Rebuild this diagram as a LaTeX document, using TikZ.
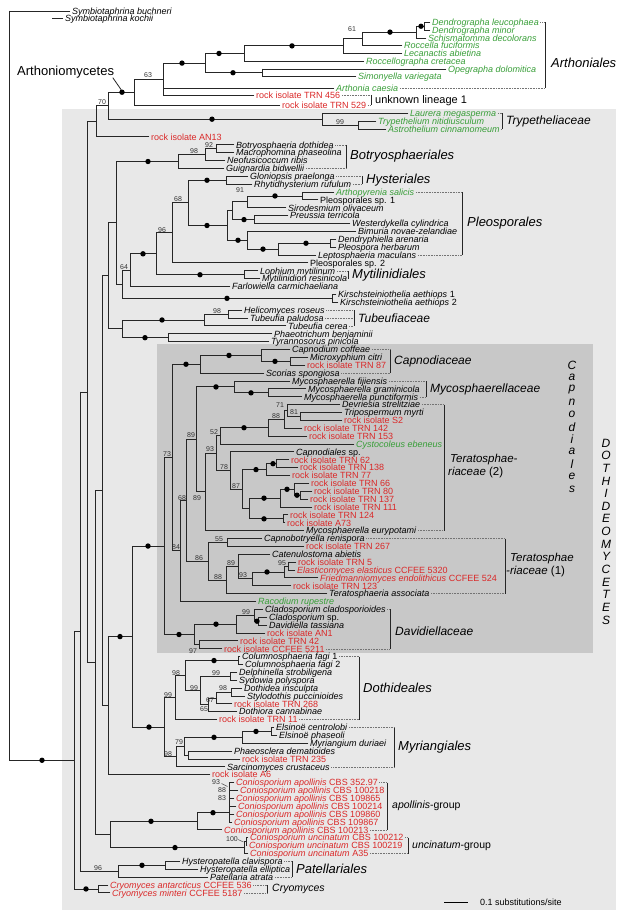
\documentclass[tikz,border=0pt]{standalone}
\usepackage{fontspec}
\setmainfont{Liberation Sans}
\usetikzlibrary{calc}
\definecolor{lich}{RGB}{56,158,56}
\definecolor{rock}{RGB}{218,40,40}
\definecolor{boxlight}{RGB}{232,232,232}
\definecolor{boxdark}{RGB}{200,200,200}
\newcommand\uu[1]{\textup{#1}}
\newcommand\trLF[6]{\draw[br] (#1,#3) -- (#2,#3); \node[lf,#4] (#5) at (#2,#3) {#6};}
\newcommand\trIN[4]{\draw[br] (#2,#3) -- (#2,#4); \draw[br] (#1,{(#3+#4)/2}) -- (#2,{(#3+#4)/2});}
\newcommand\trINd[5]{\trIN{#1}{#2}{#3}{#4}\fill[black] (#5,{(#3+#4)/2}) circle (2.7pt);}
\newcommand\trLD[3]{\draw[ldr] let \p1=(#1.east) in (\x1+1.5pt,-#2pt) -- (#3pt,-#2pt);}
\newcommand\trBR[3]{\draw[brk] (#1,#2) -- (#1,#3);}
\newcommand\trBS[3]{\node[bs] at (#1,#2) {#3};}
\begin{document}
\begin{tikzpicture}[x=1pt,y=-1pt,
 br/.style={line width=0.9pt, draw=black!85, line cap=rect},
 brk/.style={line width=1pt, draw=black!85},
 ldr/.style={line width=0.6pt, draw=black!55, dash pattern=on 0.7pt off 0.9pt},
 lf/.style={anchor=base west, inner sep=0pt, xshift=2pt, yshift=-3.2pt, font=\fontsize{9}{9}\selectfont\itshape, text=black},
 grn/.style={text=lich}, rd/.style={text=rock}, blk/.style={},
 bs/.style={inner sep=0pt, font=\fontsize{7}{7}\selectfont, text=black!80},
 ordl/.style={anchor=west, inner sep=0pt, font=\fontsize{13}{13}\selectfont\itshape},
 faml/.style={anchor=west, inner sep=0pt, font=\fontsize{12}{12}\selectfont\itshape},
 grpl/.style={anchor=west, inner sep=0pt, font=\fontsize{11}{11}\selectfont},
 vlet/.style={inner sep=0pt, font=\fontsize{12}{12}\selectfont\itshape}]
\useasboundingbox (0,0) rectangle (624,915);
\fill[boxlight] (62,109) rectangle (616,910);
\fill[boxdark] (157,344) rectangle (593,653);
% ---------- root
\draw[br] (9,11) -- (9,760.26);
\trLF{9}{70}{11}{blk}{l1}{Symbiotaphrina buchneri}
\trLF{52}{63}{18.5}{blk}{l2}{Symbiotaphrina kochii}
\trINd{9}{74}{631.575}{888.95}{42}
\trIN{74}{80}{391.95}{871.2}
\trIN{80}{87}{121.3}{662.6}
\trIN{87}{96}{105.7}{136.9}
\trIN{96}{108}{92.2}{119.2}
\trINd{108}{134}{79.05}{105.4}{122}
% ---------- Arthoniomycetes
\trIN{134}{163}{63.1}{95}
\trINd{163}{205}{53.45}{72.75}{182}
\trINd{205}{244}{45.9}{61}{219}
\trINd{205}{262}{69}{76.5}{233}
\trINd{244}{343}{38.8}{53}{292}
\trIN{343}{362}{32.1}{45.5}
\trINd{362}{416}{26.25}{38}{390}
\trINd{416}{424}{22.5}{30}{421}
\trLF{424}{430}{22.5}{grn}{l3}{Dendrographa leucophaea}
\trLF{424}{430}{30}{grn}{l4}{Dendrographa minor}
\trLF{416}{426}{38}{grn}{l5}{Schismatomma decolorans}
\trLF{362}{402}{45.5}{grn}{l6}{Roccella fuciformis}
\trLF{343}{402}{53}{grn}{l7}{Lecanactis abietina}
\trLF{244}{364}{61}{grn}{l8}{Roccellographa cretacea}
\trLF{262}{446}{69}{grn}{l9}{Opegrapha dolomitica}
\trLF{262}{356}{76.5}{grn}{l10}{Simonyella variegata}
\trLF{163}{334}{88}{grn}{l11}{Arthonia caesia}
\trLF{163}{254}{95}{rd}{l12}{\uu{rock isolate TRN 456}}
\trLF{134}{280}{105.4}{rd}{l13}{\uu{rock isolate TRN 529}}
\node[anchor=west,inner sep=0pt,font=\fontsize{13}{13}\selectfont] (arthlab) at (17,72) {Arthoniomycetes};
\draw[br,line width=0.8pt] (113,78) -- (121,89.5);
% ---------- Trypetheliaceae, AN13
\trINd{108}{322}{113.3}{125.1}{212}
\trIN{322}{358}{121.2}{129}
\trLF{322}{408}{113.3}{grn}{l14}{Laurera megasperma}
\trLF{358}{376}{121.2}{grn}{l15}{Trypethelium nitidiusculum}
\trLF{358}{386}{129}{grn}{l16}{Astrothelium cinnamomeum}
\trLF{96}{149}{136.9}{rd}{l17}{\uu{rock isolate AN13}}
% ---------- backbone
\trIN{87}{95}{490.75}{834.45}
\trIN{95}{102}{275.9}{705.6}
\trIN{102}{108}{222.9}{328.85}
\trIN{108}{116}{161.5}{284.25}
% Botryosphaeriales
\trINd{116}{178}{154.6}{168.4}{148}
\trIN{178}{205}{148.75}{160.5}
\trIN{205}{216}{144.8}{152.7}
\trLF{216}{234}{144.8}{blk}{l18}{Botryosphaeria dothidea}
\trLF{216}{234}{152.7}{blk}{l19}{Macrophomina phaseolina}
\trLF{205}{225}{160.5}{blk}{l20}{Neofusicoccum ribis}
\trLF{178}{224}{168.4}{blk}{l21}{Guignardia bidwellii}
% Pleosporales etc.
\trIN{116}{122}{270.15}{298.35}
\trIN{122}{130}{253.8}{286.5}
\trINd{122}{332}{294.4}{302.3}{227}
\trINd{130}{156}{232.9}{274.75}{143}
\trINd{156}{244}{270.8}{278.7}{200}
\trIN{156}{172}{202.9}{262.9}
\trIN{172}{188}{180.25}{225.5}
\trINd{188}{226}{176.3}{184.2}{207}
\trINd{188}{227}{210.75}{240.25}{207}
\trIN{227}{232}{201.9}{219.6}
\trIN{232}{247}{196}{207.8}
\trINd{247}{302}{192}{199.9}{275}
\trINd{232}{254}{215.7}{223.5}{244}
\trINd{227}{247}{231.4}{249.1}{238}
\trINd{247}{278}{243.25}{255}{263}
\trINd{278}{330}{239.3}{247.2}{306}
\trLF{226}{248}{176.3}{blk}{l22}{Gloniopsis praelonga}
\trLF{226}{252}{184.2}{blk}{l23}{Rhytidhysterium rufulum}
\trLF{302}{334}{192}{grn}{l24}{Arthopyrenia salicis}
\trLF{302}{318}{199.9}{blk}{l25}{\uu{Pleosporales sp. 1}}
\trLF{247}{286}{207.8}{blk}{l26}{Sirodesmium olivaceum}
\trLF{254}{288}{215.7}{blk}{l27}{Preussia terricola}
\trLF{254}{350}{223.5}{blk}{l28}{Westerdykella cylindrica}
\trLF{247}{356}{231.4}{blk}{l29}{Bimuria novae-zelandiae}
\trLF{330}{336}{239.3}{blk}{l30}{Dendryphiella arenaria}
\trLF{330}{336}{247.2}{blk}{l31}{Pleospora herbarum}
\trLF{278}{316}{255}{blk}{l32}{Leptosphaeria maculans}
\trLF{172}{308}{262.9}{blk}{l33}{\uu{Pleosporales sp. 2}}
\trLF{244}{258}{270.8}{blk}{l34}{Lophium mytilinum}
\trLF{244}{260}{278.7}{blk}{l35}{Mytilinidion resinicola}
\trLF{130}{230}{286.5}{blk}{l36}{Farlowiella carmichaeliana}
\trLF{332}{336}{294.4}{blk}{l37}{Kirschsteiniothelia aethiops \uu{1}}
\trLF{332}{338}{302.3}{blk}{l38}{Kirschsteiniothelia aethiops \uu{2}}
% Tubeufiaceae
\trIN{108}{122}{320}{337.7}
\trINd{122}{204}{314.05}{325.9}{162}
\trIN{204}{228}{310.1}{318}
\trINd{122}{168}{333.8}{341.6}{145}
\trLF{228}{242}{310.1}{blk}{l39}{Helicomyces roseus}
\trLF{228}{248}{318}{blk}{l40}{Tubeufia paludosa}
\trLF{204}{286}{325.9}{blk}{l41}{Tubeufia cerea}
\trLF{168}{272}{333.8}{blk}{l42}{Phaeotrichum benjaminii}
\trLF{168}{269}{341.6}{blk}{l43}{Tyrannosorus pinicola}
% ---------- Capnodiales
\trIN{102}{108}{636.55}{774.7}
\trINd{108}{132}{546.05}{727.075}{120}
\trINd{132}{164}{457.6}{634.5}{148}
\trIN{164}{172}{364.25}{550.9}
\trINd{172}{200}{355.4}{373.1}{186}
\trINd{200}{261}{349.5}{361.35}{229}
\trINd{261}{290}{357.4}{365.3}{275}
\trLF{261}{290}{349.5}{blk}{l44}{Capnodium coffeae}
\trLF{290}{308}{357.4}{blk}{l45}{Microxyphium citri}
\trLF{290}{305}{365.3}{rd}{l46}{\uu{rock isolate TRN 87}}
\trLF{200}{264}{373.1}{blk}{l47}{Scorias spongiosa}
\trIN{172}{180}{500.35}{601.5}
\trIN{180}{186}{439.4}{561.3}
\trIN{186}{196}{386.9}{491.9}
\trINd{196}{234}{381}{392.85}{216}
\trINd{234}{268}{388.9}{396.8}{251}
\trLF{234}{290}{381}{blk}{l48}{Mycosphaerella fijiensis}
\trLF{268}{306}{388.9}{blk}{l49}{Mycosphaerella graminicola}
\trLF{268}{302}{396.8}{blk}{l50}{Mycosphaerella punctiformis}
\trIN{196}{205}{453.2}{530.6}
\trIN{205}{216}{435.9}{470.5}
\trIN{216}{220}{427.75}{444}
\trINd{220}{268}{419.4}{436.1}{244}
\trIN{268}{284}{410.5}{428.3}
\trIN{284}{287}{404.6}{416.45}
\trIN{287}{300}{412.5}{420.4}
\trLF{287}{340}{404.6}{blk}{l51}{Devriesia strelitziae}
\trLF{300}{342}{412.5}{blk}{l52}{Tripospermum myrti}
\trLF{300}{342}{420.4}{rd}{l53}{\uu{rock isolate S2}}
\trLF{284}{302}{428.3}{rd}{l54}{\uu{rock isolate TRN 142}}
\trLF{268}{307}{436.1}{rd}{l55}{\uu{rock isolate TRN 153}}
\trLF{220}{354}{444}{grn}{l56}{Cystocoleus ebeneus}
\trIN{216}{230}{451.9}{489.05}
\trIN{230}{242}{469.6}{508.5}
\trINd{242}{266}{463.7}{475.5}{256}
\trINd{266}{276}{459.8}{467.6}{273}
\trIN{242}{249}{498.15}{518.85}
\trINd{249}{280}{489.3}{507}{264}
\trINd{280}{294}{483.4}{495.2}{287}
\trINd{294}{300}{491.3}{499.1}{297}
\trINd{249}{283}{514.9}{522.8}{264}
\trLF{230}{294}{451.9}{blk}{l57}{Capnodiales \uu{sp.}}
\trLF{276}{289}{459.8}{rd}{l58}{\uu{rock isolate TRN 62}}
\trLF{276}{298}{467.6}{rd}{l59}{\uu{rock isolate TRN 138}}
\trLF{266}{290}{475.5}{rd}{l60}{\uu{rock isolate TRN 77}}
\trLF{294}{309}{483.4}{rd}{l61}{\uu{rock isolate TRN 66}}
\trLF{300}{312}{491.3}{rd}{l62}{\uu{rock isolate TRN 80}}
\trLF{300}{308}{499.1}{rd}{l63}{\uu{rock isolate TRN 137}}
\trLF{280}{312}{507}{rd}{l64}{\uu{rock isolate TRN 111}}
\trLF{283}{288}{514.9}{rd}{l65}{\uu{rock isolate TRN 124}}
\trLF{283}{285}{522.8}{rd}{l66}{\uu{rock isolate A73}}
\trLF{205}{304}{530.6}{blk}{l67}{Mycosphaerella eurypotami}
\trIN{186}{208}{542.45}{580.1}
\trIN{208}{227}{538.5}{546.4}
\trIN{208}{226}{566.6}{593.6}
\trIN{226}{238}{554.3}{578.9}
\trIN{238}{252}{572}{585.8}
\trINd{252}{284}{566.05}{577.9}{267}
\trIN{284}{288}{562.1}{570}
\trLF{227}{262}{538.5}{blk}{l68}{Capnobotryella renispora}
\trLF{227}{304}{546.4}{rd}{l69}{\uu{rock isolate TRN 267}}
\trLF{238}{270}{554.3}{blk}{l70}{Catenulostoma abietis}
\trLF{288}{296}{562.1}{rd}{l71}{\uu{rock isolate TRN 5}}
\trLF{288}{295}{570}{rd}{l72}{Elasticomyces elasticus \uu{CCFEE 5320}}
\trLF{284}{318}{577.9}{rd}{l73}{Friedmanniomyces endolithicus \uu{CCFEE 524}}
\trLF{252}{291}{585.8}{rd}{l74}{\uu{rock isolate TRN 123}}
\trLF{226}{327}{593.6}{blk}{l75}{Teratosphaeria associata}
\trLF{180}{256}{601.5}{grn}{l76}{Racodium rupestre}
\trINd{164}{194}{624.15}{644.85}{179}
\trINd{194}{236}{615.3}{633}{216}
\trIN{236}{254}{609.4}{621.2}
\trINd{254}{258}{617.3}{625.1}{257}
\trIN{194}{199}{640.9}{648.8}
\trLF{254}{263}{609.4}{blk}{l77}{Cladosporium cladosporioides}
\trLF{258}{267}{617.3}{blk}{l78}{Cladosporium \uu{sp.}}
\trLF{258}{267}{625.1}{blk}{l79}{Davidiella tassiana}
\trLF{236}{265}{633}{rd}{l80}{\uu{rock isolate AN1}}
\trLF{199}{238}{640.9}{rd}{l81}{\uu{rock isolate TRN 42}}
\trLF{199}{222}{648.8}{rd}{l82}{\uu{rock isolate CCFEE 5211}}
% ---------- Dothideales, Myriangiales
\trINd{132}{164}{697.6}{756.55}{149}
\trIN{164}{175}{675.6}{719.6}
\trIN{175}{185}{660.55}{690.6}
\trINd{185}{238}{656.6}{664.5}{214}
\trIN{185}{200}{676.35}{704.85}
\trIN{200}{230}{672.4}{680.3}
\trIN{200}{208}{698}{711.7}
\trIN{208}{216}{692.05}{703.9}
\trIN{216}{231}{688.1}{696}
\trLF{238}{240}{656.6}{blk}{l83}{Columnosphaeria fagi \uu{1}}
\trLF{238}{243}{664.5}{blk}{l84}{Columnosphaeria fagi \uu{2}}
\trLF{230}{237}{672.4}{blk}{l85}{Delphinella strobiligena}
\trLF{230}{237}{680.3}{blk}{l86}{Sydowia polyspora}
\trLF{231}{242}{688.1}{blk}{l87}{Dothidea insculpta}
\trLF{231}{245}{696}{blk}{l88}{Stylodothis puccinioides}
\trLF{216}{232}{703.9}{rd}{l89}{\uu{rock isolate TRN 268}}
\trLF{208}{237}{711.7}{blk}{l90}{Dothiora cannabinae}
\trLF{175}{217}{719.6}{rd}{l91}{\uu{rock isolate TRN 11}}
\trIN{164}{176}{746.2}{766.9}
\trIN{176}{184}{737.3}{755.05}
\trINd{184}{242}{731.45}{743.2}{214}
\trINd{242}{271}{727.5}{735.4}{256}
\trIN{184}{188}{751.1}{759}
\trLF{271}{274}{727.5}{blk}{l92}{Elsinoë centrolobi}
\trLF{271}{277}{735.4}{blk}{l93}{Elsinoë phaseoli}
\trLF{242}{308}{743.2}{blk}{l94}{Myriangium duriaei}
\trLF{188}{232}{751.1}{blk}{l95}{Phaeosclera dematioides}
\trLF{188}{240}{759}{rd}{l96}{\uu{rock isolate TRN 235}}
\trLF{176}{225}{766.9}{blk}{l97}{Sarcinomyces crustaceus}
\trLF{108}{210}{774.7}{rd}{l98}{\uu{rock isolate A6}}
% ---------- Coniosporium
\trIN{95}{110}{821.3}{847.6}
\trINd{110}{197}{812.7}{829.9}{151}
\draw[br] (229,782.6) -- (229,822);
\draw[br] (197,812.7) -- (229,812.7);
\fill[black] (213,812.7) circle (2.7pt);
\trLF{229}{234}{782.6}{rd}{l99}{Coniosporium apollinis \uu{CBS 352.97}}
\trLF{229}{238}{790.5}{rd}{l100}{Coniosporium apollinis \uu{CBS 100218}}
\trLF{229}{234}{798.4}{rd}{l101}{Coniosporium apollinis \uu{CBS 109865}}
\trLF{229}{236}{806.2}{rd}{l102}{Coniosporium apollinis \uu{CBS 100214}}
\trLF{229}{234}{814.1}{rd}{l103}{Coniosporium apollinis \uu{CBS 109860}}
\trLF{229}{232}{822}{rd}{l104}{Coniosporium apollinis \uu{CBS 109867}}
\trLF{197}{222}{829.9}{rd}{l105}{Coniosporium apollinis \uu{CBS 100213}}
\trIN{244}{246}{837.7}{845.6}
\trINd{110}{244}{841.65}{853.5}{175}
\trLF{246}{248}{837.7}{rd}{l106}{Coniosporium uncinatum \uu{CBS 100212}}
\trLF{246}{247}{845.6}{rd}{l107}{Coniosporium uncinatum \uu{CBS 100219}}
\trLF{244}{248}{853.5}{rd}{l108}{Coniosporium uncinatum \uu{A35}}
\draw[black!70,line width=0.5pt] (221.5,783.5) -- (227.5,786.5);
\draw[black!70,line width=0.5pt] (238,839.5) -- (243.5,842);
% ---------- Patellariales, Cryomyces
\trIN{80}{118}{865.3}{877.1}
\trINd{118}{165}{861.4}{869.2}{142}
\trLF{165}{180}{861.4}{blk}{l109}{Hysteropatella clavispora}
\trLF{165}{198}{869.2}{blk}{l110}{Hysteropatella elliptica}
\trLF{118}{208}{877.1}{blk}{l111}{Patellaria atrata}
\trINd{74}{98}{885}{892.9}{86}
\trLF{98}{108}{885}{rd}{l112}{Cryomyces antarcticus \uu{CCFEE 536}}
\trLF{98}{110}{892.9}{rd}{l113}{Cryomyces minteri \uu{CCFEE 5187}}
% ---------- leaders and brackets
\trLD{l3}{22.5}{545}\trLD{l11}{88}{545}\trBR{545}{22.5}{88}
\node[ordl] at (551,63) {Arthoniales};
\trLD{l12}{95}{371}\trLD{l13}{105.4}{371}\trBR{371}{95}{105.4}
\node[grpl] at (375,100.2) {unknown lineage 1};
\trLD{l14}{113.3}{502}\trLD{l16}{129}{502}\trBR{502}{113.3}{129}
\node[faml] at (506,121.2) {Trypetheliaceae};
\trLD{l18}{144.8}{346}\trLD{l21}{168.4}{346}\trBR{346}{144.8}{168.4}
\node[ordl] at (350,156.6) {Botryosphaeriales};
\trLD{l22}{176.3}{362}\trLD{l23}{184.2}{362}\trBR{362}{176.3}{184.2}
\node[ordl] at (366,180.3) {Hysteriales};
\trLD{l24}{192}{462}\trLD{l32}{255}{462}\trBR{462}{192}{255}
\node[ordl] at (467,223.5) {Pleosporales};
\trLD{l34}{270.8}{348}\trLD{l35}{278.7}{348}\trBR{348}{270.8}{278.7}
\node[ordl] at (352,274.8) {Mytilinidiales};
\trLD{l39}{310.1}{354}\trLD{l40}{318}{354}\trLD{l41}{325.9}{354}\trBR{354}{310.1}{325.9}
\node[faml] at (358,318) {Tubeufiaceae};
\trLD{l44}{349.5}{390}\trLD{l47}{373.1}{390}\trBR{390}{349.5}{373.1}
\node[faml] at (394,361.3) {Capnodiaceae};
\trLD{l48}{381}{426}\trLD{l50}{396.8}{426}\trBR{426}{381}{396.8}
\node[faml] at (430,388.9) {Mycosphaerellaceae};
\trLD{l51}{404.6}{444}\trLD{l67}{530.6}{444}\trBR{444}{404.6}{530.6}
\node[faml,font=\fontsize{11.5}{11.5}\selectfont\itshape] at (450,460) {Teratosphae-};
\node[faml,font=\fontsize{11.5}{11.5}\selectfont\itshape] at (448,473) {riaceae \uu{(2)}};
\trLD{l68}{538.5}{505}\trLD{l75}{593.6}{505}\trBR{505}{538.5}{593.6}
\node[faml,font=\fontsize{11.5}{11.5}\selectfont\itshape] at (510,559) {Teratosphae};
\node[faml,font=\fontsize{11.5}{11.5}\selectfont\itshape] at (506,572) {-riaceae \uu{(1)}};
\trLD{l77}{609.4}{390}\trLD{l82}{648.8}{390}\trBR{390}{609.4}{648.8}
\node[faml] at (395,631) {Davidiellaceae};
\trLD{l83}{656.6}{359}\trLD{l91}{719.6}{359}\trBR{359}{656.6}{719.6}
\node[ordl] at (363,688) {Dothideales};
\trLD{l92}{727.5}{394}\trLD{l97}{766.9}{394}\trBR{394}{727.5}{766.9}
\node[ordl] at (398,747) {Myriangiales};
\trLD{l99}{782.6}{387}\trLD{l105}{829.9}{387}\trBR{387}{782.6}{829.9}
\node[grpl,font=\fontsize{10.5}{10.5}\selectfont] at (392,806) {\textit{apollinis}-group};
\trLD{l106}{837.7}{408}\trLD{l108}{853.5}{408}\trBR{408}{837.7}{853.5}
\node[grpl,font=\fontsize{10.5}{10.5}\selectfont] at (412,845.6) {\textit{uncinatum}-group};
\trLD{l109}{861.4}{292}\trLD{l111}{877.1}{292}\trBR{292}{861.4}{877.1}
\node[ordl] at (296,869) {Patellariales};
\trLD{l112}{885}{267}\trLD{l113}{892.9}{267}\trBR{267}{885}{892.9}
\node[grpl,font=\fontsize{10.5}{10.5}\selectfont\itshape] at (272,889) {Cryomyces};
% ---------- vertical letters
\foreach \c [count=\i from 0] in {C,a,p,n,o,d,i,a,l,e,s}
  \node[vlet] at (572,{365+12.4*\i}) {\c};
\foreach \c [count=\i from 0] in {D,O,T,H,I,D,E,O,M,Y,C,E,T,E,S}
  \node[vlet] at (606,{443+12.64*\i}) {\c};
% ---------- bootstrap values
\trBS{352}{29}{61}\trBS{148}{75}{63}\trBS{102}{102}{70}\trBS{340}{122}{99}
\trBS{209}{145}{92}\trBS{194}{151}{98}\trBS{178}{199}{68}\trBS{240}{190}{91}
\trBS{162}{230}{96}\trBS{124}{267}{64}\trBS{217}{311}{98}
\trBS{280}{405}{71}\trBS{294}{412}{81}\trBS{276}{416}{88}\trBS{214}{432}{52}
\trBS{191}{435}{89}\trBS{210}{449}{93}\trBS{167}{454}{73}\trBS{224}{467}{78}
\trBS{236}{486}{87}\trBS{182}{498}{68}\trBS{197}{498}{89}\trBS{219}{539}{55}
\trBS{176}{547}{84}\trBS{199}{558}{86}\trBS{231}{563}{89}\trBS{282}{563}{95}
\trBS{218}{577}{88}\trBS{243}{575}{93}\trBS{246}{612}{99}\trBS{193}{651}{97}
\trBS{176}{673}{98}\trBS{216}{673}{99}\trBS{194}{688}{99}\trBS{223}{688}{98}
\trBS{168}{695}{99}\trBS{210}{700}{67}\trBS{204}{709}{65}\trBS{179}{742}{79}
\trBS{168}{754}{98}\trBS{216}{782.5}{93}\trBS{222}{790}{88}\trBS{222}{798}{83}
\trBS{232}{839.5}{100}\trBS{98}{868}{96}
% ---------- scale bar
\draw[line width=1pt] (444,902.7) -- (468,902.7);
\node[lf,font=\fontsize{9}{9}\selectfont,xshift=0pt] (scl) at (478,902.7) {0.1 substitutions/site};
\end{tikzpicture}
\end{document}
